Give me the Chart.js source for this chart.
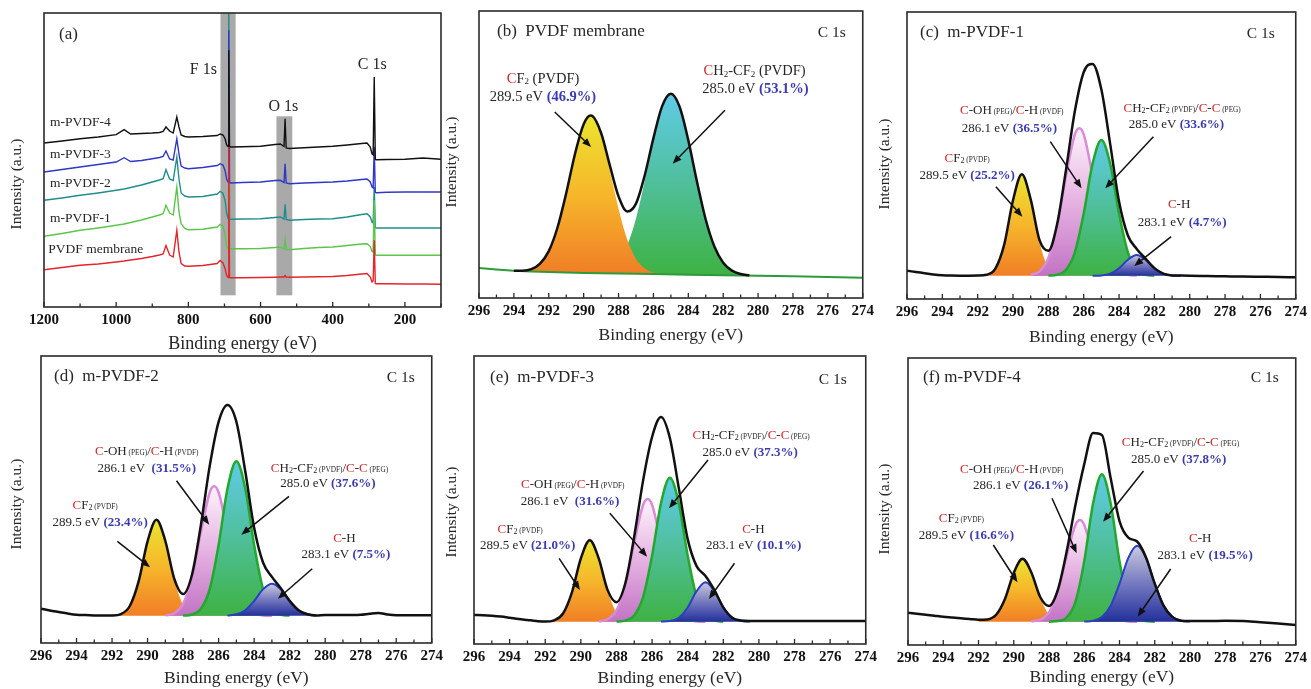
<!DOCTYPE html>
<html><head><meta charset="utf-8">
<script src="https://cdn.jsdelivr.net/npm/chart.js@4.4.1/dist/chart.umd.min.js"></script>
<style>
html,body{margin:0;padding:0;background:#fff;width:1311px;height:689px;overflow:hidden;position:relative}
canvas{position:absolute;display:block}
</style></head><body>
<script>
// ================= DATA =================
// Panel (a): XPS survey spectra (binding energy in eV, intensity in a.u., stacked)
const surveyEnergy = [1200,1150,1100,1050,1000,978,960,930,900,880,870,862,852,842,832,826,820,810,800,760,720,712,704,698,694,690,688,686,683,650,600,560,545,535,532,529,520,480,440,400,360,320,305,296,291,288,285,282,279,250,200,150,100];
const surveyPVDF = [37.3,39.5,41.7,43,45,46,47,48.5,50.5,52,53,61.5,52,50,76.7,55,43.5,41,40.7,41.5,43.5,46.5,44,38,31.5,29.5,160,29.5,29.3,29.3,29.5,29.8,30,30,31.5,30,29.8,30,30.3,30.5,31.5,33,33.5,30,25,26,66.7,23.5,23.3,23.2,23,23,22.7];
const surveyM1 = [70.7,73.5,76.7,79,81.7,83,84.5,87,90,92,93.3,101.7,94,92,120,95,83.3,78.5,77.3,77.8,80,82.7,80.5,72,60,58.5,200,58.3,58.3,58.3,58.5,59.5,60,58,67.3,57.5,57.3,58.5,59.5,60,61.5,63,63.3,60.7,55.5,55,106.7,52,51.7,51.7,51.7,51.7,51.7];
const surveyM2 = [106.7,109,111.7,114,116.7,118,119.5,122,125,127,128.3,137.3,128,126.5,150,128,114,111,110,110.5,113,115.7,113.5,106,94,88.5,300,88,87.7,88,88.3,89.5,90,88,102.7,87.5,86.7,87.5,88,88.3,90,92.5,93.3,90,85,84,120,79.3,79,79,79,79,79];
const surveyM3 = [135,137.5,140,142.5,145,149.3,145.5,146.5,148.3,149.5,150.7,156,148,147,168.3,153,141,139,138.3,139.5,141.5,143.3,142,136,128,125,276.7,124.5,124,124.5,125,126.5,126.7,124.5,143.3,124,123.3,124,124.5,125,126,127.5,128,125,120,119,160,114.5,114.3,114.7,115,115,115];
const surveyM4 = [164,166,168.3,170,172.3,177.3,173,173.5,174,174.5,175.5,180,176,174,190,180,172,170.5,170,170.5,171.5,173,172,168,162,160.5,256.7,160.5,160,160.3,160.7,162.5,163,160.5,188.3,159,158.5,159.3,160,160.7,162,163.5,164,160,153,152,230,147.5,147.3,147.5,147.7,149,147.7];
const surveyNames = ['PVDF membrane','m-PVDF-1','m-PVDF-2','m-PVDF-3','m-PVDF-4'];
const surveyTickLabels = [1200,1000,800,600,400,200];
const surveyBands = [[711,669,null,11.7],[556,512,190.7,11.7]]; // F 1s and O 1s highlight regions

// C 1s panels: tick labels
const c1sTickLabels = [296,294,292,290,288,286,284,282,280,278,276,274];

// (b) PVDF membrane  [binding energy, intensity]
const b_base = [[296,30],[295,28.5],[294,27.3],[293,26.6],[292,26],[290,25.1],[288,24.5],[286,23.9],[284,23.3],[282,22.7],[280,22.3],[278,21.7],[276,21],[274,20.3]];
const b_cf2 = [[293.6,26.8],[293.1,28.2],[292.6,32.8],[292.1,43.6],[291.6,64.7],[291.1,97.3],[290.6,136.3],[290.1,169.1],[289.6,182.0],[289.1,168.8],[288.6,135.7],[288.1,96.4],[287.6,63.5],[287.1,42.1],[286.6,31.0],[286.1,26.1],[285.6,24.4]];
const b_ch2 = [[289.5,25.5],[289,26.4],[288.5,29.5],[288,37.1],[287.5,52.7],[287,79.4],[286.5,116.9],[286,158.2],[285.5,191.5],[285,204.1],[284.5,191.2],[284,157.6],[283.5,116.0],[283,78.2],[282.5,51.2],[282,35.3],[281.5,27.4],[281,24.0],[280.5,22.8]];
const b_env = [[294,27.3],[293.5,27.3],[293,28.8],[292.5,34.4],[292,46.9],[291.5,70.5],[291,104.8],[290.5,143.8],[290,173.7],[289.6,182.4],[289.5,182.0],[289,165.0],[288.5,132.6],[288,101.6],[287.5,86.6],[287,94.4],[286.5,122.5],[286,159.9],[285.5,191.9],[285,204.2],[284.5,191.2],[284,157.6],[283.5,116.0],[283,78.2],[282.5,51.2],[282,35.3],[281.5,27.4],[281,24.0],[280.5,22.8]];

// (c) m-PVDF-1
const c_base = [[293,23.3],[280,23.3]];
const c_cf2 = [[292,23.4],[291.5,24.2],[291,30.4],[290.5,54.4],[290,98.8],[289.5,124.8],[289,98.8],[288.5,54.4],[288,30.4],[287.5,24.2],[287,23.4]];
const c_coh = [[289,24.1],[288.5,27.7],[288,41.0],[287.5,73.3],[287,123.3],[286.5,164.6],[286.25,170.8],[286,164.6],[285.5,123.3],[285,73.3],[284.5,41.0],[284,27.7],[283.5,24.1],[283,23.4]];
const c_ch2 = [[288,23.4],[287.5,24.3],[287,29.3],[286.5,46.7],[286,85.5],[285.5,135.1],[285,159.1],[284.5,135.1],[284,85.5],[283.5,46.7],[283,29.3],[282.5,24.3],[282,23.4]];
const c_ch = [[285.5,23.3],[285,23.6],[284.5,25.4],[284,30.8],[283.5,39.3],[283,44.0],[282.5,39.3],[282,30.8],[281.5,25.4],[281,23.6],[280.5,23.3]];
const c_env = [[296,28.3],[295.5,27.0],[295,25.8],[294.5,24.5],[294,23.7],[293.5,23.4],[293,23.3],[292.5,23.3],[292,23.4],[291.5,24.2],[291,30.4],[290.5,54.4],[290,98.8],[289.5,124.8],[289,99.6],[288.5,58.8],[288,48.2],[287.5,75.2],[287,129.4],[286.5,188.0],[286,226.8],[285.5,235.1],[285,209.4],[284.5,154.9],[284,97.4],[283.5,63.5],[283,50.1],[282.5,40.3],[282,30.9],[281.5,25.4],[281,23.6],[280.5,23.4],[280,23.3],[279,23.0],[278,22.7],[277,22.4],[276,22.2],[275,22.0],[274,21.7]];

// (d) m-PVDF-2
const d_base = [[293,27.3],[280,27.3]];
const d_cf2 = [[292,27.5],[291.5,28.9],[291,37.0],[290.5,61.9],[290,101.7],[289.5,123.3],[289,101.7],[288.5,61.9],[288,37.0],[287.5,28.9],[287,27.5]];
const d_coh = [[289,27.6],[288.5,29.8],[288,39.1],[287.5,65.5],[287,110.8],[286.5,150.5],[286.25,156.7],[286,150.5],[285.5,110.8],[285,65.5],[284.5,39.1],[284,29.8],[283.5,27.6],[283,27.3]];
const d_ch2 = [[288,27.4],[287.5,28.5],[287,34.1],[286.5,53.9],[286,98.0],[285.5,154.4],[285,181.7],[284.5,154.4],[284,98.0],[283.5,53.9],[283,34.1],[282.5,28.5],[282,27.4]];
const d_ch = [[285.5,27.5],[285,28.7],[284.5,32.8],[284,42.0],[283.5,53.6],[283,59.3],[282.5,53.6],[282,42.0],[281.5,32.8],[281,28.7],[280.5,27.5]];
const d_env = [[296,34.3],[295.5,32.5],[295,31.0],[294.5,29.5],[294,28.3],[293.5,27.9],[293,27.6],[292.5,27.4],[292,27.5],[291.5,28.9],[291,37.0],[290.5,61.9],[290,101.7],[289.5,123.3],[289,102.0],[288.5,64.4],[288,48.9],[287.5,68.3],[287,117.8],[286.5,177.1],[286,221.2],[285.5,238.1],[285,221.3],[284.5,171.7],[284,115.2],[283.5,80.5],[283,66.1],[282.5,54.8],[282,42.1],[281.5,32.8],[281,28.7],[280.5,27.5],[280,28.0],[279,28.0],[278,28.3],[277.5,29.3],[277,30.0],[276.5,28.6],[276,27.8],[275,27.7],[274,27.7]];

// (e) m-PVDF-3
const e_base = [[293,22.3],[280,22.3]];
const e_cf2 = [[292,22.4],[291.5,23.7],[291,30.5],[290.5,51.7],[290,85.5],[289.5,103.8],[289,85.5],[288.5,51.7],[288,30.5],[287.5,23.7],[287,22.4]];
const e_coh = [[289,22.6],[288.5,24.7],[288,33.5],[287.5,58.5],[287,101.4],[286.5,139.1],[286.25,145.0],[286,139.1],[285.5,101.4],[285,58.5],[284.5,33.5],[284,24.7],[283.5,22.6],[283,22.3]];
const e_ch2 = [[288,22.4],[287.5,23.4],[287,28.6],[286.5,47.1],[286,88.3],[285.5,140.8],[285,166.3],[284.5,140.8],[284,88.3],[283.5,47.1],[283,28.6],[282.5,23.4],[282,22.4]];
const e_ch = [[285.5,22.4],[285,23.0],[284.5,26.3],[284,36.5],[283.5,52.8],[283,61.7],[282.5,52.8],[282,36.5],[281.5,26.3],[281,23.0],[280.5,22.4]];
const e_env = [[296,29.0],[295.5,28.8],[295,28.3],[294.5,27.5],[294,26.3],[293.5,25.0],[293,24.0],[292.5,23.0],[292,22.4],[291.5,23.7],[291,30.5],[290.5,51.7],[290,85.5],[289.5,103.8],[289,85.8],[288.5,54.1],[288,41.8],[287.5,61.0],[287,107.8],[286.5,163.9],[286,207],[285.5,227],[285,206],[284.5,156.0],[284,104.9],[283.5,77.9],[283,68.0],[282.5,53.9],[282,36.6],[281.5,26.3],[281,23.5],[280.5,23.0],[280,23.0],[278,23.0],[276,23.0],[274,23.0]];

// (f) m-PVDF-4
const f_base = [[293,23.3],[279,23.3]];
const f_cf2 = [[292,23.4],[291.5,24.4],[291,29.6],[290.5,46.0],[290,72.1],[289.5,86.3],[289,72.1],[288.5,46.0],[288,29.6],[287.5,24.4],[287,23.4]];
const f_coh = [[289,23.6],[288.5,25.3],[288,32.6],[287.5,53.3],[287,88.9],[286.5,120.1],[286.25,125.0],[286,120.1],[285.5,88.9],[285,53.3],[284.5,32.6],[284,25.3],[283.5,23.6],[283,23.3]];
const f_ch2 = [[288,23.3],[287.5,23.9],[287,27.5],[286.5,43.2],[286,83.9],[285.5,141.4],[285,170.7],[284.5,141.4],[284,83.9],[283.5,43.2],[283,27.5],[282.5,23.9],[282,23.3]];
const f_ch = [[286,23.4],[285.5,24.3],[285,28.1],[284.5,39.3],[284,61.3],[283.5,87.2],[283,99.3],[282.5,87.2],[282,61.3],[281.5,39.3],[281,28.1],[280.5,24.3],[280,23.4]];
const f_env = [[296,32.3],[295.5,31.3],[295,30.3],[294.5,29.3],[294,28.3],[293.5,27.5],[293,26.7],[292.5,26.0],[292,25.2],[291.5,25.6],[291,30.2],[290.5,46.0],[290,72.1],[289.5,86.3],[289,72.4],[288.5,48.0],[288,39.0],[287.5,55.0],[287,93.2],[286.5,140.0],[286,180.9],[285.5,212],[285,210],[284.5,166.7],[284,123.9],[283.5,107.4],[283,103.5],[282.5,87.8],[282,61.4],[281.5,39.3],[281,28.1],[280.5,24.3],[280,24.0],[279,24.0],[278,24.2],[277,24.0],[276,22.7],[275,21.5],[274,20.0]];

// Annotation texts
const L_COH = '{r:C}-OH{m: (PEG)}/{r:C}-H{m: (PVDF)}';
const L_CH2 = '{r:C}H{s:2}-CF{s:2}{m: (PVDF)}/{r:C}-{r:C}{m: (PEG)}';
const L_CF2 = '{r:C}F{s:2}{m: (PVDF)}';
const L_CH = '{r:C}-H';

// ================= DRAWING =================
const FONT = "'Liberation Serif','Times New Roman',serif";
const TXT = '#262626', RED = '#d3282b', BLUE = '#3a3ab2';
const xy = pairs => pairs.map(p => ({x:p[0], y:p[1]}));

function gradient(stops){
  return (c) => {
    const chart = c.chart, area = chart.chartArea;
    if (!area || !c.dataset || !chart.scales.y) return stops[stops.length-1];
    const ys = c.dataset.data.map(p => p.y);
    const y = chart.scales.y;
    const top = y.getPixelForValue(Math.max(...ys)), bot = y.getPixelForValue(Math.min(...ys));
    const g = chart.ctx.createLinearGradient(0, top, 0, Math.max(bot, top + 1));
    stops.forEach((s,i) => g.addColorStop(i/(stops.length-1), s));
    return g;
  };
}
const GR = {
  cf2: ['#ebe52e','#f6b62b','#f07e26'],
  ch2: ['#5fcbe6','#4fbf9a','#3eb243'],
  coh: ['#fdf4fb','#e6b2e2','#c273c4'],
  ch:  ['#cacade','#7479bf','#24309c']
};

function parseRich(s){
  const re = /\{(\w):([^}]*)\}|([^{]+)/g; const out = []; let m;
  while ((m = re.exec(s))) { if (m[3] !== undefined) out.push({k:'n', t:m[3]}); else out.push({k:m[1], t:m[2]}); }
  return out;
}
function segFont(k, size){
  if (k === 's') return `${(size*0.62).toFixed(2)}px ${FONT}`;
  if (k === 'm') return `${(size*0.56).toFixed(2)}px ${FONT}`;
  if (k === 'b') return `bold ${size}px ${FONT}`;
  return `${size}px ${FONT}`;
}
function drawRich(ctx, str, x, y, size, align){
  const segs = parseRich(str);
  let total = 0;
  segs.forEach(s => { ctx.font = segFont(s.k, size); s.w = ctx.measureText(s.t).width; total += s.w; });
  let cx = align === 'left' ? x : x - total/2;
  const base = y + size*0.33;
  ctx.textAlign = 'left'; ctx.textBaseline = 'alphabetic';
  segs.forEach(s => {
    ctx.font = segFont(s.k, size);
    ctx.fillStyle = s.k === 'r' ? RED : (s.k === 'b' ? BLUE : TXT);
    ctx.fillText(s.t, cx, s.k === 's' ? base + size*0.1 : base);
    cx += s.w;
  });
}
function arrow(ctx, x1, y1, x2, y2){
  const ang = Math.atan2(y2-y1, x2-x1), hl = 9, hw = 3.6;
  const bx = x2 - hl*Math.cos(ang), by = y2 - hl*Math.sin(ang);
  ctx.strokeStyle = '#111'; ctx.fillStyle = '#111'; ctx.lineWidth = 1.5;
  ctx.beginPath(); ctx.moveTo(x1, y1); ctx.lineTo(bx, by); ctx.stroke();
  ctx.beginPath(); ctx.moveTo(x2, y2);
  ctx.lineTo(bx + hw*Math.sin(ang), by - hw*Math.cos(ang));
  ctx.lineTo(bx - hw*Math.sin(ang), by + hw*Math.cos(ang));
  ctx.closePath(); ctx.fill();
}

function makePanel(cfg){
  const {L,T,R,B,ytx,yty,xty,xTitleSize} = cfg;
  const cl = Math.max(0, Math.round(ytx - 12));
  const ct = Math.max(0, T - 12);
  const cr = Math.min(1311, R + 14);
  const cb = Math.round(xty + xTitleSize*0.6 + 4);
  const cv = document.createElement('canvas');
  cv.width = cr - cl; cv.height = cb - ct;
  Object.assign(cv.style, {left: cl+'px', top: ct+'px', width: (cr-cl)+'px', height: (cb-ct)+'px'});
  document.body.appendChild(cv);
  const tickLabels = cfg.tickLabels;
  const deco = {
    id: 'deco',
    beforeDatasetsDraw(chart){
      if (!cfg.bands) return;
      const {ctx, chartArea:a, scales:{x, y}} = chart;
      ctx.save(); ctx.fillStyle = '#a9a9a9';
      cfg.bands.forEach(b => {
        const x1 = x.getPixelForValue(b[0]), x2 = x.getPixelForValue(b[1]);
        const y1 = b[2] == null ? a.top : y.getPixelForValue(b[2]);
        const y2 = y.getPixelForValue(b[3]);
        ctx.fillRect(Math.min(x1,x2), y1, Math.abs(x2-x1), y2-y1);
      });
      ctx.restore();
    },
    afterDatasetsDraw(chart){
      const {ctx, chartArea:a, scales:{x, y}} = chart;
      ctx.save();
      // frame
      ctx.strokeStyle = '#2a2a2a'; ctx.lineWidth = 1.6;
      ctx.strokeRect(a.left, a.top, a.right - a.left, a.bottom - a.top);
      // inward ticks
      ctx.lineWidth = 1.3;
      x.ticks.forEach(t => {
        const px = x.getPixelForValue(t.value);
        const len = tickLabels.includes(t.value) ? 5 : 3.5;
        ctx.beginPath(); ctx.moveTo(px, a.bottom); ctx.lineTo(px, a.bottom - len); ctx.stroke();
      });
      // y title
      ctx.save();
      ctx.translate(ytx - cl, yty - ct); ctx.rotate(-Math.PI/2);
      ctx.font = `15.5px ${FONT}`; ctx.fillStyle = TXT; ctx.textAlign = 'center'; ctx.textBaseline = 'middle';
      ctx.fillText('Intensity (a.u.)', 0, 0);
      ctx.restore();
      // panel title & tag
      if (cfg.title) {
        ctx.font = `17px ${FONT}`; ctx.fillStyle = TXT; ctx.textAlign = 'left'; ctx.textBaseline = 'middle';
        ctx.fillText(cfg.title[0], a.left + cfg.title[1], a.top + cfg.title[2]);
      }
      if (cfg.tag) {
        ctx.font = `15.5px ${FONT}`; ctx.fillStyle = TXT; ctx.textAlign = 'right'; ctx.textBaseline = 'middle';
        ctx.fillText('C 1s', a.right - cfg.tag[0], a.top + cfg.tag[1]);
      }
      // text labels
      (cfg.labels || []).forEach(l => {
        const px = l.rel ? a.left + l.x : x.getPixelForValue(l.x);
        const py = l.rel ? a.top + l.y : y.getPixelForValue(l.y);
        drawRich(ctx, l.t, px, py, l.size, l.align);
      });
      // arrows
      (cfg.arrows || []).forEach(r => {
        arrow(ctx, x.getPixelForValue(r[0]), y.getPixelForValue(r[1]), x.getPixelForValue(r[2]), y.getPixelForValue(r[3]));
      });
      ctx.restore();
    }
  };
  return new Chart(cv, {
    type: 'line',
    data: {datasets: cfg.datasets},
    options: {
      responsive: false, animation: false, devicePixelRatio: 1,
      layout: {padding: {left: L - cl, top: T - ct, right: cr - R, bottom: 0}},
      plugins: {legend: {display: false}, tooltip: {enabled: false}},
      elements: {point: {radius: 0}},
      scales: {
        x: {
          type: 'linear', reverse: true, min: cfg.xmin, max: cfg.xmax,
          afterFit(s){ s.height = cb - B; },
          grid: {display: false, drawTicks: false}, border: {display: false},
          ticks: {stepSize: cfg.step, autoSkip: false, maxTicksLimit: 100, maxRotation: 0, minRotation: 0, padding: cfg.tickPad,
                  color: '#111', font: {family: FONT, size: 15, weight: 'bold'},
                  callback: v => tickLabels.includes(v) ? String(v) : ''},
          title: {display: true, text: 'Binding energy (eV)', color: TXT, font: {family: FONT, size: xTitleSize}, padding: {top: 0, bottom: 4}}
        },
        y: {type: 'linear', display: false, min: 0, max: cfg.ymax}
      }
    },
    plugins: [deco]
  });
}

// ---------- Panel (a) ----------
const zip = vals => surveyEnergy.map((e,i) => ({x:e, y:vals[i]}));
const sLine = (vals, color) => ({data: zip(vals), borderColor: color, borderWidth: 1.4, tension: 0, fill: false});
makePanel({
  L:44, T:13, R:441, B:307, ytx:17, yty:184, xty:344, xTitleSize:18, tickPad:4.5,
  xmin:100, xmax:1200, step:100, tickLabels: surveyTickLabels, ymax:294,
  bands: surveyBands,
  datasets: [
    sLine(surveyPVDF, '#e2262a'),
    sLine(surveyM4, '#111111'),
    sLine(surveyM3, '#3036c6'),
    sLine(surveyM1, '#5cc64b'),
    sLine(surveyM2, '#1f8e8b')
  ],
  labels: [
    {t:'(a)', x:15, y:20, size:17, align:'left', rel:true},
    {t:'F 1s', x:159.3, y:56, size:16, rel:true},
    {t:'O 1s', x:239.3, y:93, size:16, rel:true},
    {t:'C 1s', x:328.3, y:50.3, size:16, rel:true},
    {t:surveyNames[4], x:6, y:108.7, size:13.5, align:'left', rel:true},
    {t:surveyNames[3], x:6, y:141, size:13.5, align:'left', rel:true},
    {t:surveyNames[2], x:6, y:169.7, size:13.5, align:'left', rel:true},
    {t:surveyNames[1], x:6, y:204.3, size:13.5, align:'left', rel:true},
    {t:surveyNames[0], x:4.3, y:235.3, size:13.5, align:'left', rel:true}
  ]
});

// ---------- Panel (b) ----------
const ENV = data => ({data: xy(data), borderColor: '#111', borderWidth: 2.5, fill: false, cubicInterpolationMode: 'monotone'});
const BASE = data => ({data: xy(data), borderColor: 'rgba(0,0,0,0)', borderWidth: 0, fill: false});
const PEAK = (data, stops, stroke, width, target) => ({data: xy(data), borderColor: stroke, borderWidth: width, fill: target,
  backgroundColor: gradient(stops), cubicInterpolationMode: 'monotone'});

makePanel({
  L:479, T:11, R:864, B:298, ytx:452, yty:162, xty:335, xTitleSize:17.5, tickPad:4,
  xmin:274, xmax:296, step:1, tickLabels: c1sTickLabels, ymax:287,
  title: ['(b)  PVDF membrane', 18, 21], tag: [17, 22],
  datasets: [
    ENV(b_env),
    {data: xy(b_base), borderColor: '#2e9a3b', borderWidth: 2, fill: false},
    PEAK(b_cf2, GR.cf2, 'rgba(0,0,0,0)', 0, 1),
    PEAK(b_ch2, GR.ch2, 'rgba(0,0,0,0)', 0, 1)
  ],
  labels: [
    {t:'{r:C}F{s:2} (PVDF)', x:292.33, y:220, size:14.5},
    {t:'289.5 eV {b:(46.9%)}', x:292.33, y:201.5, size:14.5},
    {t:'{r:C}H{s:2}-CF{s:2} (PVDF)', x:280.2, y:227.7, size:14.5},
    {t:'285.0 eV {b:(53.1%)}', x:280.15, y:209.3, size:14.5}
  ],
  arrows: [[291.66,186,289.57,151],[281.9,187.7,284.9,134.3]]
});

function fitPanel(geom, title, tag, env, cf2, coh, ch2, ch, base, labels, arrows){
  makePanel(Object.assign({xTitleSize:17.5, tickPad:4, xmin:274, xmax:296, step:1, tickLabels:c1sTickLabels,
    title, tag,
    datasets: [
      ENV(env),
      PEAK(ch, GR.ch, '#2b3fc4', 2, 5),
      PEAK(ch2, GR.ch2, '#22a82c', 2.5, 5),
      PEAK(coh, GR.coh, '#d98ad8', 2.5, 5),
      PEAK(cf2, GR.cf2, 'rgba(240,140,40,0.9)', 1, 5),
      BASE(base)
    ],
    labels, arrows}, geom));
}

// ---------- Panel (c) ----------
fitPanel({L:907, T:12, R:1300, B:299, ytx:885, yty:164, xty:337, ymax:287},
  ['(c)  m-PVDF-1', 13, 21], [21, 22], c_env, c_cf2, c_coh, c_ch2, c_ch, c_base,
  [
    {t:L_COH, x:290.07, y:189, size:13},
    {t:'286.1 eV {b:(36.5%)}', x:290.2, y:171.7, size:13},
    {t:L_CH2, x:280.43, y:191.7, size:13},
    {t:'285.0 eV {b:(33.6%)}', x:280.75, y:175, size:13},
    {t:L_CF2, x:292.6, y:141.7, size:13},
    {t:'289.5 eV {b:(25.2%)}', x:292.6, y:124.7, size:13},
    {t:L_CH, x:280.6, y:95, size:13},
    {t:'283.1 eV {b:(4.7%)}', x:280.43, y:77.3, size:13}
  ],
  [[287.89,157.3,286.12,110.7],[282.06,162.3,284.78,110.7],[290.97,112.3,289.47,82.3],[281.05,62.3,283.14,33]]);

// ---------- Panel (d) ----------
fitPanel({L:41, T:356, R:433, B:643, ytx:17, yty:504, xty:678, ymax:287},
  ['(d)  m-PVDF-2', 13, 21], [17, 22], d_env, d_cf2, d_coh, d_ch2, d_ch, d_base,
  [
    {t:L_COH, x:290.05, y:192.3, size:13},
    {t:'286.1 eV  {b:(31.5%)}', x:290.05, y:175.7, size:13},
    {t:L_CH2, x:279.76, y:175.7, size:13},
    {t:'285.0 eV {b:(37.6%)}', x:279.85, y:160, size:13},
    {t:L_CF2, x:292.95, y:138.3, size:13},
    {t:'289.5 eV {b:(23.4%)}', x:292.67, y:121.7, size:13},
    {t:L_CH, x:278.92, y:105.7, size:13},
    {t:'283.1 eV {b:(7.5%)}', x:278.83, y:89, size:13}
  ],
  [[288.37,162.3,286.53,118.3],[282.04,146.7,284.72,108.3],[291.7,101.7,289.86,75.7],[280.73,74.3,282.66,44.3]]);

// ---------- Panel (e) ----------
fitPanel({L:474, T:356, R:867, B:644, ytx:452, yty:512, xty:678, ymax:288},
  ['(e)  m-PVDF-3', 16, 22], [19, 24], e_env, e_cf2, e_coh, e_ch2, e_ch, e_base,
  [
    {t:L_COH, x:290.46, y:160.7, size:13},
    {t:'286.1 eV  {b:(31.6%)}', x:290.61, y:143.3, size:13},
    {t:L_CH2, x:280.44, y:209.7, size:13},
    {t:'285.0 eV {b:(37.3%)}', x:280.49, y:192.3, size:13},
    {t:L_CF2, x:293.41, y:115.7, size:13},
    {t:'289.5 eV {b:(21.0%)}', x:292.98, y:99, size:13},
    {t:L_CH, x:280.31, y:115.7, size:13},
    {t:'283.1 eV {b:(10.1%)}', x:280.29, y:99, size:13}
  ],
  [[288.37,130.7,286.28,87.3],[282.86,184,285.05,135.7],[291.22,85.7,290.05,54],[281.37,80.7,282.81,45]]);

// ---------- Panel (f) ----------
fitPanel({L:908, T:358, R:1300, B:645, ytx:885, yty:509, xty:677, ymax:287},
  ['(f) m-PVDF-4', 15, 20], [17, 20], f_env, f_cf2, f_coh, f_ch2, f_ch, f_base,
  [
    {t:L_COH, x:290.11, y:176, size:13},
    {t:'286.1 eV {b:(26.1%)}', x:289.61, y:160, size:13},
    {t:L_CH2, x:280.54, y:203.3, size:13},
    {t:'285.0 eV {b:(37.8%)}', x:280.64, y:186.7, size:13},
    {t:L_CF2, x:292.97, y:127.3, size:13},
    {t:'289.5 eV {b:(16.6%)}', x:292.69, y:110.7, size:13},
    {t:L_CH, x:279.42, y:107.3, size:13},
    {t:'283.1 eV {b:(19.5%)}', x:279.14, y:90.7, size:13}
  ],
  [[287.83,146.7,286.43,91.7],[282.64,174,284.93,123.3],[291.16,100,289.79,62.7],[281.1,76,282.97,28.3]]);
</script>
</body></html>
